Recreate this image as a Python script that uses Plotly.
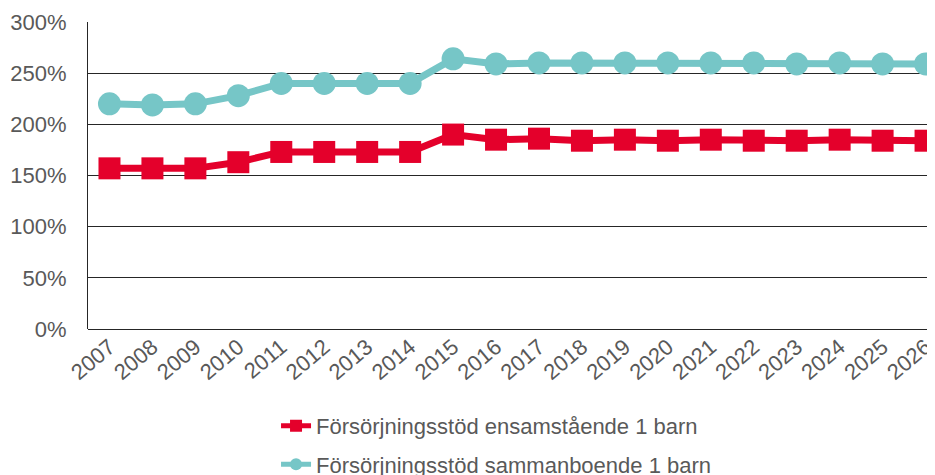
import plotly.graph_objects as go

years = [str(y) for y in range(2007, 2027)]
ensam = [157, 157, 157, 163, 173, 173, 173, 173, 190, 185, 186, 184, 185, 184, 185, 184, 184, 185, 184, 184]
samman = [220, 219, 220, 228, 240, 240, 240, 240, 264, 259, 260, 260, 260, 260, 260, 260, 259, 260, 259, 259]

names = ["Försörjningsstöd ensamstående 1 barn", "Försörjningsstöd sammanboende 1 barn"]

RED = "#E4002B"
TEAL = "#76C6C7"
GRAY = "#595959"
FONT = "Liberation Sans, Arial, sans-serif"
FS = 22

fig = go.Figure()
fig.add_trace(go.Scatter(
    x=years, y=ensam, name=names[0], mode="lines+markers",
    line=dict(color=RED, width=7),
    marker=dict(symbol="square", size=22, color=RED),
    legendgroup="a",
))
fig.add_trace(go.Scatter(
    x=years, y=samman, name=names[1], mode="lines+markers",
    line=dict(color=TEAL, width=7),
    marker=dict(symbol="circle", size=23, color=TEAL),
    legendgroup="b",
))

fig.update_layout(
    width=935, height=475,
    margin=dict(l=80, r=8, t=14, b=154, autoexpand=False),
    paper_bgcolor="white", plot_bgcolor="white",
    font=dict(family=FONT, color=GRAY, size=FS),
    showlegend=True,
    legend=dict(
        x=0.222, y=-0.247, xanchor="left", yanchor="top",
        font=dict(size=FS, color=GRAY),
        tracegroupgap=7,
        itemsizing="constant",
        bgcolor="rgba(0,0,0,0)",
    ),
    xaxis=dict(
        type="category", range=[-0.5, 19.22],
        showgrid=False, showline=False, ticks="",
        tickangle=-40, tickfont=dict(size=FS, color=GRAY),
        automargin=False,
    ),
    yaxis=dict(
        range=[0, 300], dtick=50, ticksuffix="%",
        showgrid=True, gridcolor="#262626", gridwidth=1,
        showline=True, linecolor="#262626", linewidth=1,
        zeroline=True, zerolinecolor="#262626", zerolinewidth=1,
        ticks="", ticklabelstandoff=16,
        tickfont=dict(size=FS, color=GRAY),
        automargin=False,
    ),
)

fig.write_html("out.html")
